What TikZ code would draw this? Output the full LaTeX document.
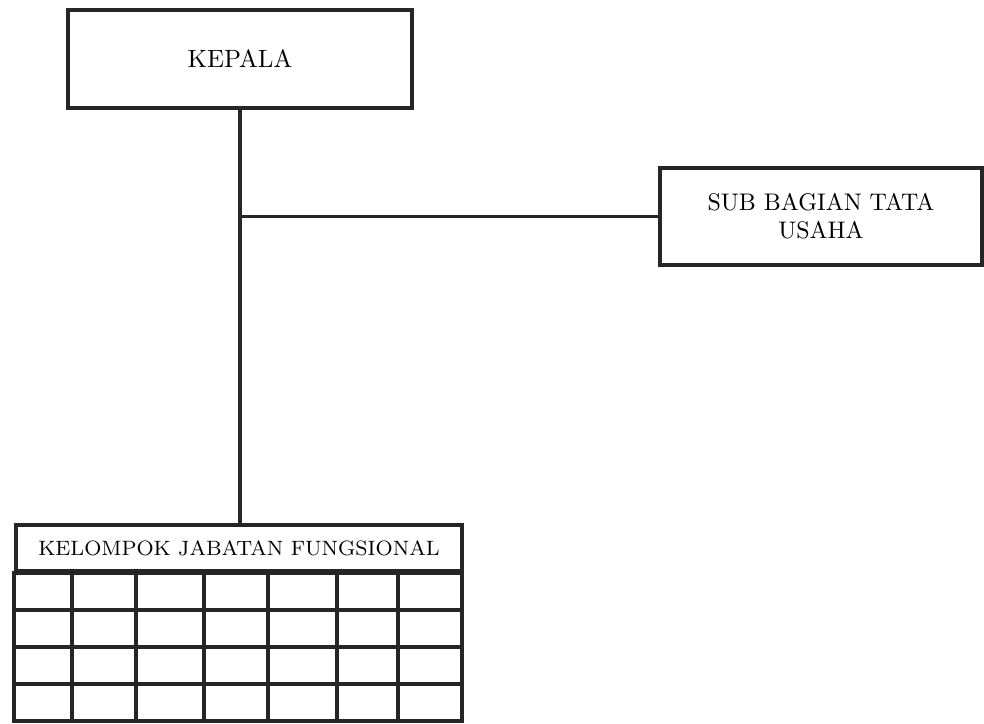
\documentclass[tikz,border=0pt]{standalone}
\usepackage{tikz}

\tikzset{
  unit/.style={draw=black!85,line width=1.4pt,fill=white,align=center,inner sep=0pt},
  link/.style={draw=black!85,line width=1.4pt},
}

\begin{document}
\begin{tikzpicture}[x=0.4pt,y=-0.4pt]
  \useasboundingbox (0,0) rectangle (984,724);
  \node[unit,minimum width=137.6pt,minimum height=39.2pt] (kepala) at (240,59) {KEPALA};
  \node[unit,minimum width=128.8pt,minimum height=38.8pt,font=\fontsize{9.6}{11.2}\selectfont] (tu) at (821,216.5) {SUB BAGIAN TATA\\USAHA};
  \node[unit,minimum width=178.4pt,minimum height=18.4pt,font=\fontsize{8.3}{10}\selectfont] (kjf) at (239,548) {KELOMPOK JABATAN FUNGSIONAL};
  \coordinate (cabang) at (kepala.south |- tu.west);
  \draw[link] (kepala.south) -- (kepala.south |- kjf.north);
  \draw[link] (cabang) -- (tu.west);
  % kotak-kotak jabatan fungsional
  \draw[link] (kjf.south west) rectangle (462,721);
  \foreach \x in {72,136,204,268,337,398}
    \draw[link] (\x,571) -- (\x,721);
  \foreach \y in {610,647,684}
    \draw[link] (16,\y) -- (462,\y);
\end{tikzpicture}
\end{document}
